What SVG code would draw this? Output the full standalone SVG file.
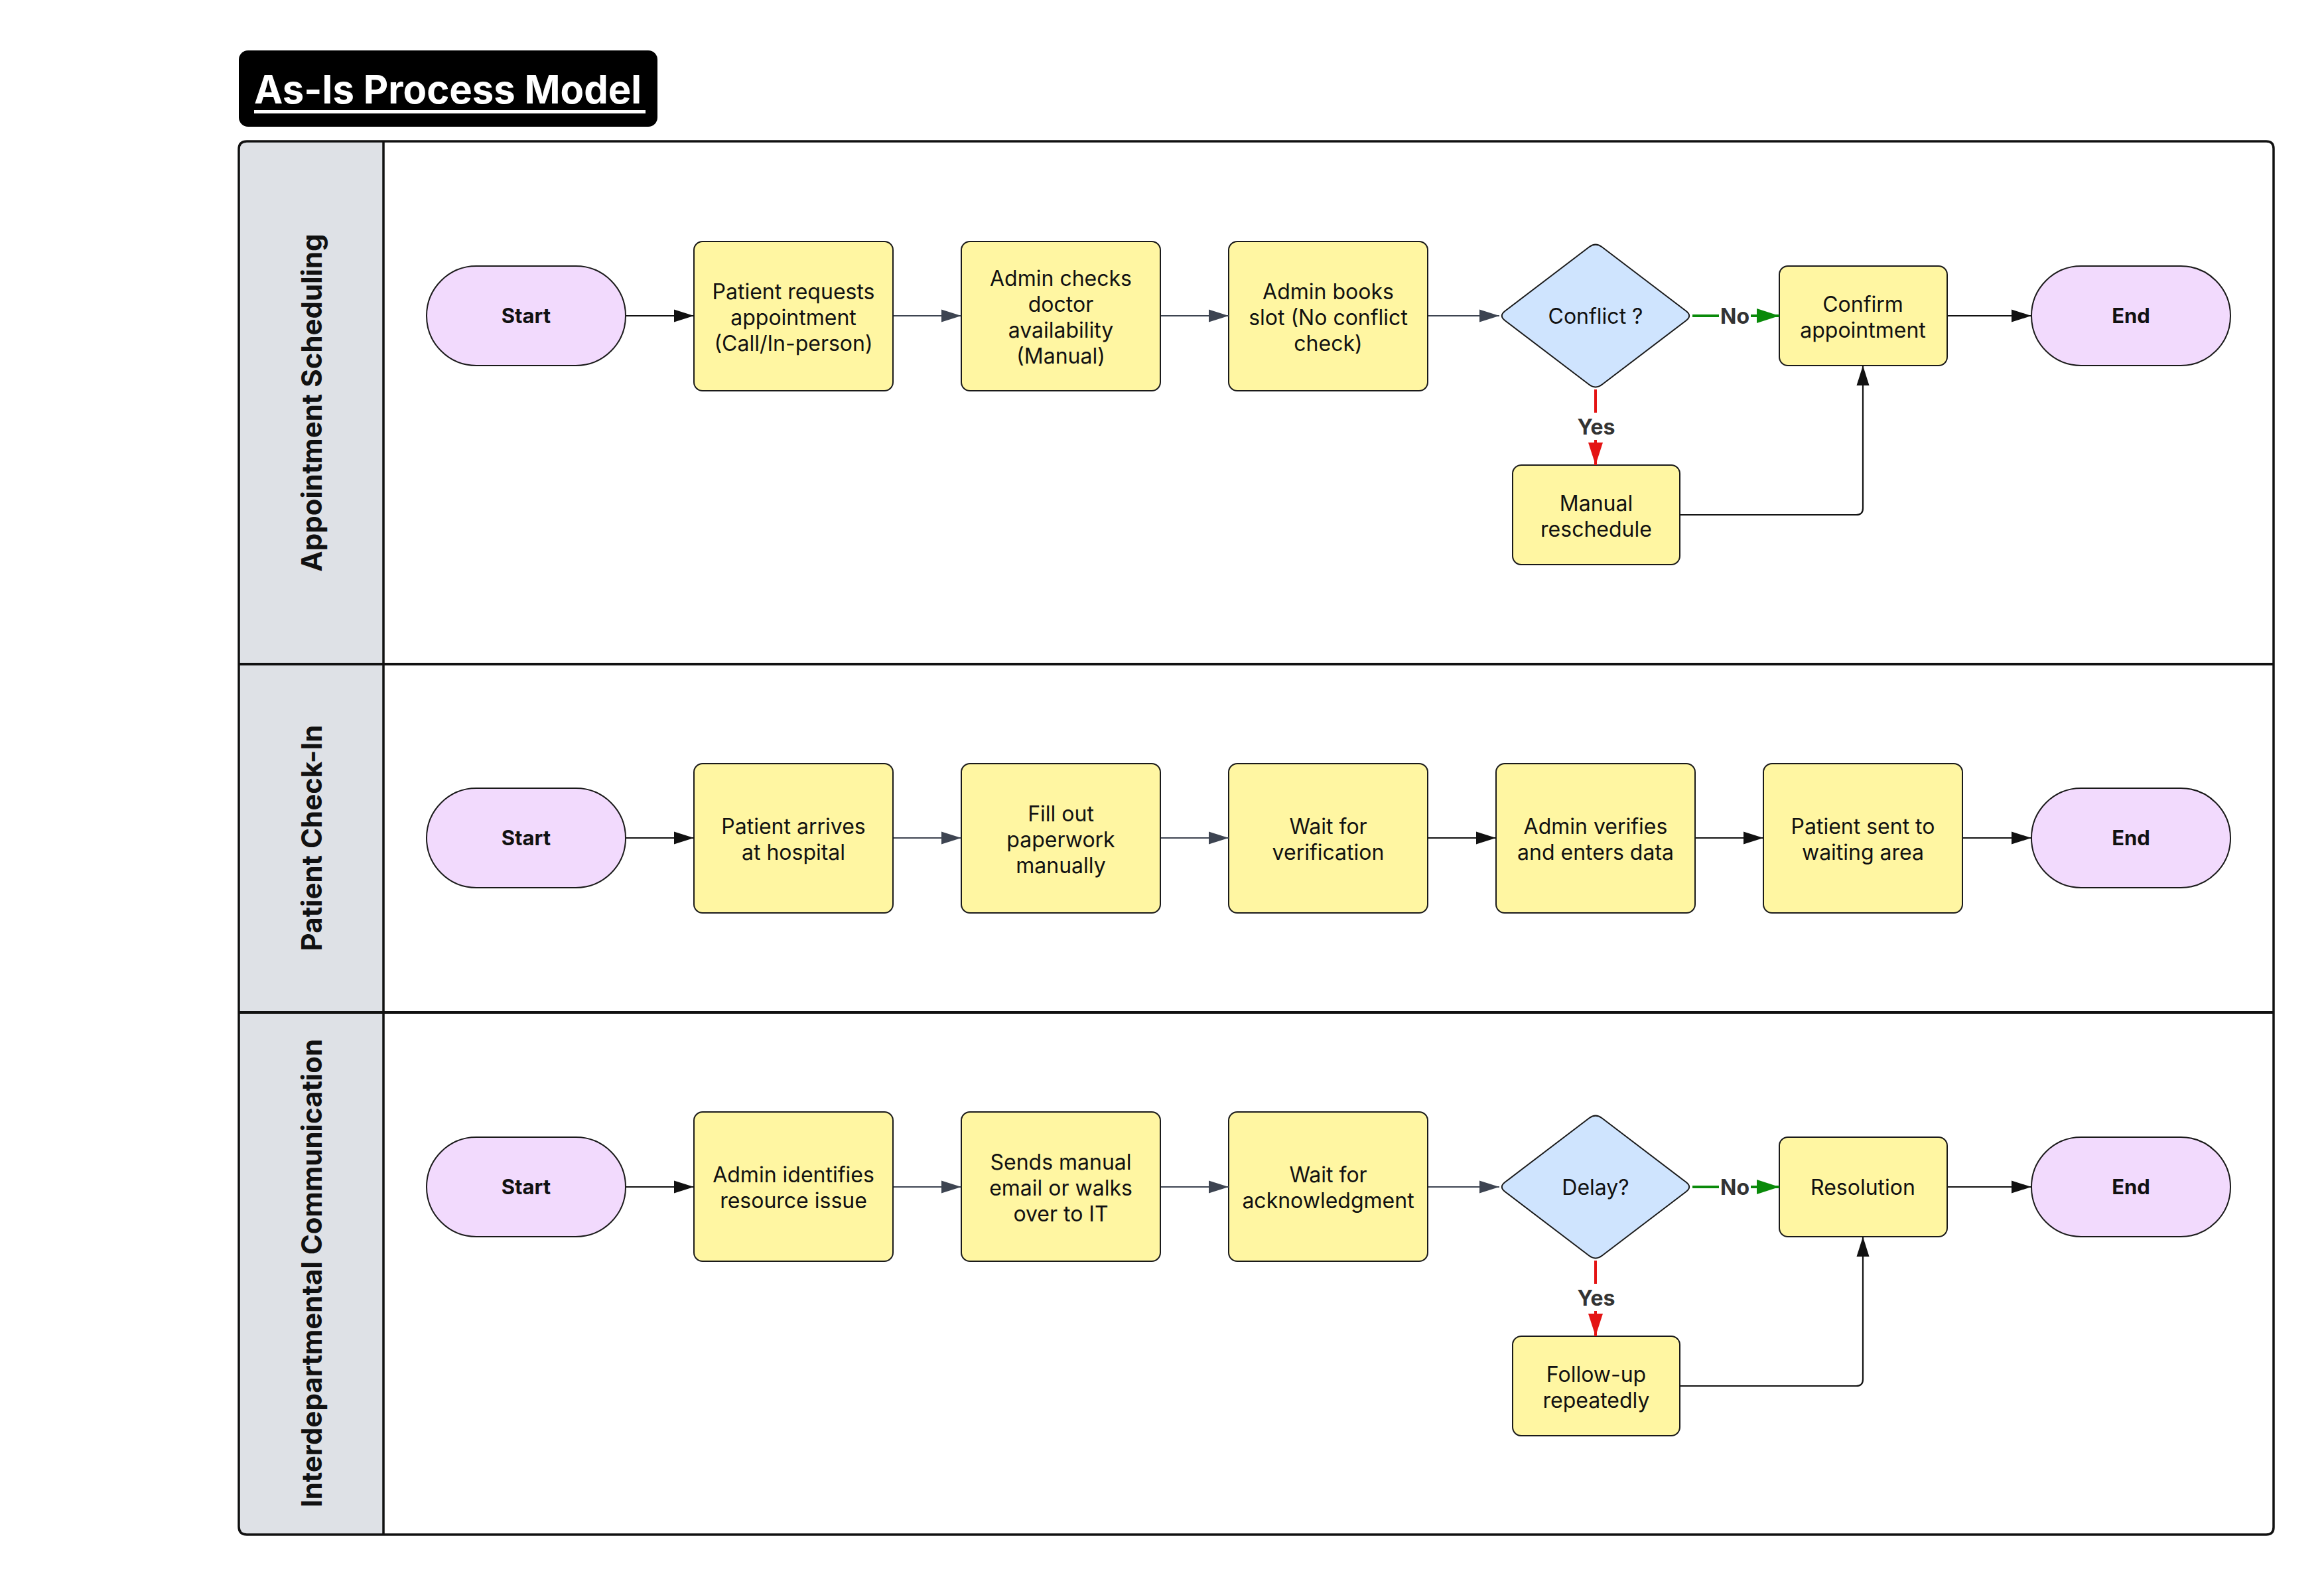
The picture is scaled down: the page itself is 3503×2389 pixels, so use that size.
<svg xmlns="http://www.w3.org/2000/svg" width="3503" height="2389" viewBox="0 0 3503 2389">
<style>
text{font-family:Inter,"Liberation Sans",sans-serif;fill:#111;}
.t{font-size:32px;text-anchor:middle;}
.b{font-size:31px;font-weight:700;text-anchor:middle;}
.lane{font-size:42px;font-weight:700;text-anchor:middle;}
.lbl{font-size:32px;font-weight:700;text-anchor:middle;fill:#333;}
.task{fill:#fff6a2;stroke:#1a1a1a;stroke-width:2;}
.term{fill:#f2dafd;stroke:#1a1a1a;stroke-width:2;}
.dec{fill:#cfe4fe;stroke:#1a1a1a;stroke-width:2;}
.ck{stroke:#111;stroke-width:2.2;fill:none;}
.cg{stroke:#3d4451;stroke-width:2.2;fill:none;}
.cgr{stroke:#0a8a0a;stroke-width:4;fill:none;}
.cr{stroke:#e41414;stroke-width:4;fill:none;}
.div{stroke:#111;stroke-width:4;fill:none;}
</style>
<defs>
<marker id="mk" markerUnits="userSpaceOnUse" markerWidth="30" markerHeight="20" refX="30" refY="10" orient="auto"><path d="M0,0.5 L30,10 L0,19.5 Z" fill="#111"/></marker>
<marker id="mg" markerUnits="userSpaceOnUse" markerWidth="30" markerHeight="20" refX="30" refY="10" orient="auto"><path d="M0,0.5 L30,10 L0,19.5 Z" fill="#3d4451"/></marker>
<marker id="mgr" markerUnits="userSpaceOnUse" markerWidth="34" markerHeight="22" refX="34" refY="11" orient="auto"><path d="M0,0 L34,11 L0,22 Z" fill="#0a8a0a"/></marker>
<marker id="mr" markerUnits="userSpaceOnUse" markerWidth="34" markerHeight="22" refX="34" refY="11" orient="auto"><path d="M0,0 L34,11 L0,22 Z" fill="#e41414"/></marker>
<path id="dia" d="M-9.6,-103.8 Q0,-111 9.6,-103.8 L136.4,-7.2 Q146,0 136.4,7.2 L9.6,103.8 Q0,111 -9.6,103.8 L-136.4,7.2 Q-146,0 -136.4,-7.2 Z"/>
</defs>
<rect width="3503" height="2389" fill="#fff"/>

<g id="title">
<rect x="360" y="76" width="631" height="115" rx="14" fill="#000"/>
<text x="383" y="156" textLength="584" lengthAdjust="spacingAndGlyphs" style="font-size:59px;font-weight:700;fill:#fff;">As-Is Process Model</text>
<rect x="383" y="166" width="590" height="5" fill="#fff"/>
</g>

<g id="pool">
<path d="M372,213 H3427 V2313 H372 Q360,2313 360,2301 V225 Q360,213 372,213 Z" fill="#fff"/>
<path d="M372,213 H578 V2313 H372 Q360,2313 360,2301 V225 Q360,213 372,213 Z" fill="#dee1e6"/>
<path d="M372,213 H3416 Q3427,213 3427,224 V2302 Q3427,2313 3416,2313 H372 Q360,2313 360,2301 V225 Q360,213 372,213 Z" class="div" style="stroke-width:3.5"/>
<line x1="578" y1="213" x2="578" y2="2313" class="div" style="stroke-width:3.5"/>
<line x1="360" y1="1001" x2="3427" y2="1001" class="div"/>
<line x1="360" y1="1526" x2="3427" y2="1526" class="div"/>
</g>

<g id="lane-appointment-scheduling"><text class="lane" transform="translate(485,607) rotate(-90)">Appointment Scheduling</text></g>
<g id="lane-patient-check-in"><text class="lane" transform="translate(485,1263) rotate(-90)">Patient Check-In</text></g>
<g id="lane-interdepartmental-communication"><text class="lane" transform="translate(485,1919) rotate(-90)">Interdepartmental Communication</text></g>

<!-- Lane 1 -->
<g id="l1-start"><rect class="term" x="643" y="401" width="300" height="150" rx="75"/><text class="b" x="793" y="487">Start</text></g>
<g id="l1-request"><rect class="task" x="1046" y="364" width="300" height="225" rx="13"/><text class="t" x="1196" y="451">Patient requests</text><text class="t" x="1196" y="490">appointment</text><text class="t" x="1196" y="529">(Call/In-person)</text></g>
<g id="l1-checks"><rect class="task" x="1449" y="364" width="300" height="225" rx="13"/><text class="t" x="1599" y="431">Admin checks</text><text class="t" x="1599" y="470">doctor</text><text class="t" x="1599" y="509">availability</text><text class="t" x="1599" y="548">(Manual)</text></g>
<g id="l1-books"><rect class="task" x="1852" y="364" width="300" height="225" rx="13"/><text class="t" x="2002" y="451">Admin books</text><text class="t" x="2002" y="490">slot (No conflict</text><text class="t" x="2002" y="529">check)</text></g>
<g id="l1-conflict"><use href="#dia" x="2405" y="476" class="dec"/><text class="t" x="2405" y="488">Conflict ?</text></g>
<g id="l1-confirm"><rect class="task" x="2682" y="401" width="253" height="150" rx="13"/><text class="t" x="2808" y="470">Confirm</text><text class="t" x="2808" y="509">appointment</text></g>
<g id="l1-end"><rect class="term" x="3062" y="401" width="300" height="150" rx="75"/><text class="b" x="3212" y="487">End</text></g>
<g id="l1-reschedule"><rect class="task" x="2280" y="701" width="252" height="150" rx="13"/><text class="t" x="2406" y="770">Manual</text><text class="t" x="2406" y="809">reschedule</text></g>

<!-- Lane 2 -->
<g id="l2-start"><rect class="term" x="643" y="1188" width="300" height="150" rx="75"/><text class="b" x="793" y="1274">Start</text></g>
<g id="l2-arrives"><rect class="task" x="1046" y="1151" width="300" height="225" rx="13"/><text class="t" x="1196" y="1257">Patient arrives</text><text class="t" x="1196" y="1296">at hospital</text></g>
<g id="l2-paperwork"><rect class="task" x="1449" y="1151" width="300" height="225" rx="13"/><text class="t" x="1599" y="1238">Fill out</text><text class="t" x="1599" y="1277">paperwork</text><text class="t" x="1599" y="1316">manually</text></g>
<g id="l2-wait"><rect class="task" x="1852" y="1151" width="300" height="225" rx="13"/><text class="t" x="2002" y="1257">Wait for</text><text class="t" x="2002" y="1296">verification</text></g>
<g id="l2-verifies"><rect class="task" x="2255" y="1151" width="300" height="225" rx="13"/><text class="t" x="2405" y="1257">Admin verifies</text><text class="t" x="2405" y="1296">and enters data</text></g>
<g id="l2-sent"><rect class="task" x="2658" y="1151" width="300" height="225" rx="13"/><text class="t" x="2808" y="1257">Patient sent to</text><text class="t" x="2808" y="1296">waiting area</text></g>
<g id="l2-end"><rect class="term" x="3062" y="1188" width="300" height="150" rx="75"/><text class="b" x="3212" y="1274">End</text></g>

<!-- Lane 3 -->
<g id="l3-start"><rect class="term" x="643" y="1714" width="300" height="150" rx="75"/><text class="b" x="793" y="1800">Start</text></g>
<g id="l3-identifies"><rect class="task" x="1046" y="1676" width="300" height="225" rx="13"/><text class="t" x="1196" y="1782">Admin identifies</text><text class="t" x="1196" y="1821">resource issue</text></g>
<g id="l3-sends"><rect class="task" x="1449" y="1676" width="300" height="225" rx="13"/><text class="t" x="1599" y="1763">Sends manual</text><text class="t" x="1599" y="1802">email or walks</text><text class="t" x="1599" y="1841">over to IT</text></g>
<g id="l3-wait"><rect class="task" x="1852" y="1676" width="300" height="225" rx="13"/><text class="t" x="2002" y="1782">Wait for</text><text class="t" x="2002" y="1821">acknowledgment</text></g>
<g id="l3-delay"><use href="#dia" x="2405" y="1789" class="dec"/><text class="t" x="2405" y="1801">Delay?</text></g>
<g id="l3-resolution"><rect class="task" x="2682" y="1714" width="253" height="150" rx="13"/><text class="t" x="2808" y="1801">Resolution</text></g>
<g id="l3-end"><rect class="term" x="3062" y="1714" width="300" height="150" rx="75"/><text class="b" x="3212" y="1800">End</text></g>
<g id="l3-followup"><rect class="task" x="2280" y="2014" width="252" height="150" rx="13"/><text class="t" x="2406" y="2083">Follow-up</text><text class="t" x="2406" y="2122">repeatedly</text></g>

<g id="connectors">
<!-- lane 1 -->
<line class="ck" x1="944" y1="476" x2="1046" y2="476" marker-end="url(#mk)"/>
<line class="cg" x1="1347" y1="476" x2="1449" y2="476" marker-end="url(#mg)"/>
<line class="cg" x1="1750" y1="476" x2="1852" y2="476" marker-end="url(#mg)"/>
<line class="cg" x1="2153" y1="476" x2="2260" y2="476" marker-end="url(#mg)"/>
<line class="cgr" x1="2551" y1="476" x2="2682" y2="476" marker-end="url(#mgr)"/>
<rect x="2591" y="455" width="48" height="42" fill="#fff"/><text class="lbl" x="2615" y="488">No</text>
<line class="ck" x1="2936" y1="476" x2="3062" y2="476" marker-end="url(#mk)"/>
<line class="cr" x1="2405" y1="587" x2="2405" y2="701" marker-end="url(#mr)"/>
<rect x="2375" y="622" width="62" height="41" fill="#fff"/><text class="lbl" x="2406" y="655">Yes</text>
<path class="ck" d="M2533,776 H2798 Q2808,776 2808,766 V551" marker-end="url(#mk)"/>
<!-- lane 2 -->
<line class="ck" x1="944" y1="1263" x2="1046" y2="1263" marker-end="url(#mk)"/>
<line class="cg" x1="1347" y1="1263" x2="1449" y2="1263" marker-end="url(#mg)"/>
<line class="cg" x1="1750" y1="1263" x2="1852" y2="1263" marker-end="url(#mg)"/>
<line class="ck" x1="2153" y1="1263" x2="2255" y2="1263" marker-end="url(#mk)"/>
<line class="ck" x1="2556" y1="1263" x2="2658" y2="1263" marker-end="url(#mk)"/>
<line class="ck" x1="2959" y1="1263" x2="3062" y2="1263" marker-end="url(#mk)"/>
<!-- lane 3 -->
<line class="ck" x1="944" y1="1789" x2="1046" y2="1789" marker-end="url(#mk)"/>
<line class="cg" x1="1347" y1="1789" x2="1449" y2="1789" marker-end="url(#mg)"/>
<line class="cg" x1="1750" y1="1789" x2="1852" y2="1789" marker-end="url(#mg)"/>
<line class="cg" x1="2153" y1="1789" x2="2260" y2="1789" marker-end="url(#mg)"/>
<line class="cgr" x1="2551" y1="1789" x2="2682" y2="1789" marker-end="url(#mgr)"/>
<rect x="2591" y="1768" width="48" height="42" fill="#fff"/><text class="lbl" x="2615" y="1801">No</text>
<line class="ck" x1="2936" y1="1789" x2="3062" y2="1789" marker-end="url(#mk)"/>
<line class="cr" x1="2405" y1="1900" x2="2405" y2="2014" marker-end="url(#mr)"/>
<rect x="2375" y="1935" width="62" height="41" fill="#fff"/><text class="lbl" x="2406" y="1968">Yes</text>
<path class="ck" d="M2533,2089 H2798 Q2808,2089 2808,2079 V1864" marker-end="url(#mk)"/>
</g>
</svg>
